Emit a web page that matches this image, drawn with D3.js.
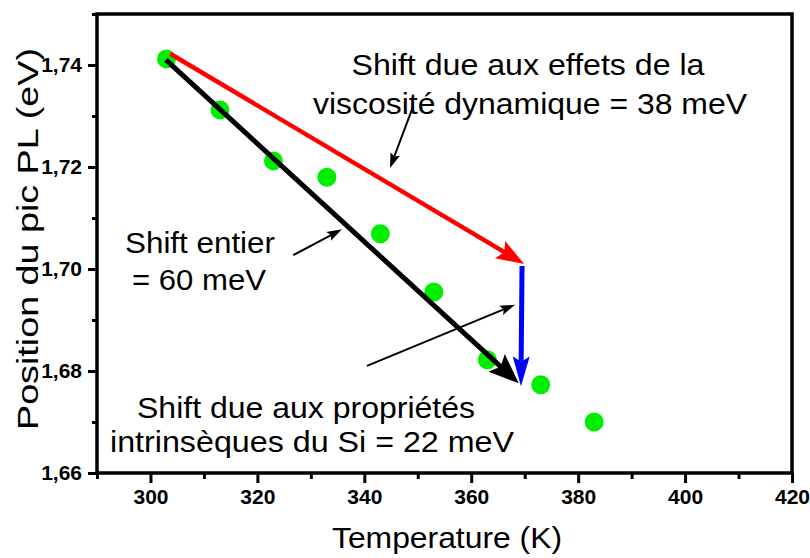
<!DOCTYPE html>
<html>
<head>
<meta charset="utf-8">
<script src="https://cdn.jsdelivr.net/npm/d3@7"></script>
<style>
  html, body { margin: 0; padding: 0; background: #fff; }
  svg { display: block; }
</style>
</head>
<body>
<svg id="chart" width="810" height="558"></svg>
<script>
// ---------- data ----------
const temperatures = [303, 313, 323, 333, 343, 353, 363, 373, 383];
const peakPositions = [1.7412, 1.7312, 1.7212, 1.718, 1.7069, 1.6955, 1.6822, 1.6773, 1.670];

const xTickValues = [300, 320, 340, 360, 380, 400, 420];
const xMinorTicks = [290, 310, 330, 350, 370, 390, 410];
const yTickValues = [1.66, 1.68, 1.70, 1.72, 1.74];
const yTickLabels = ["1,66", "1,68", "1,70", "1,72", "1,74"];
const yMinorTicks = [1.67, 1.69, 1.71, 1.73, 1.75];

// arrows in data units: [x1, y1, x2(tip), y2(tip)]
const arrowRed   = [303.7, 1.7422, 369.9, 1.7010];
const arrowBlack = [302.9, 1.7410, 368.9, 1.6776];
const arrowBlue  = [369.5, 1.7006, 369.3, 1.6770];
const pointerViscosite = [349.1, 1.7318, 344.8, 1.7198];
const pointerEntier    = [326.7, 1.7027, 335.8, 1.7078];
const pointerIntrinsic = [340.5, 1.6810, 368.2, 1.6930];

const labelViscosite = ["Shift due aux effets de la", "viscosité dynamique = 38 meV"];
const labelEntier = ["Shift entier", "= 60 meV"];
const labelIntrinsic = ["Shift due aux propriétés", "intrinsèques du Si = 22 meV"];

// ---------- layout ----------
const W = 810, H = 558;
const margin = {left: 97, right: 18, top: 14, bottom: 85};
const svg = d3.select("#chart");
const FONT = "'Liberation Sans', Arial, Helvetica, sans-serif";

const x = d3.scaleLinear().domain([290, 420]).range([margin.left, W - margin.right]);
const y = d3.scaleLinear().domain([1.66, 1.75]).range([H - margin.bottom, margin.top]);

// ---------- axes ----------
const gx = svg.append("g").attr("transform", `translate(0,${H - margin.bottom})`)
  .call(d3.axisBottom(x).tickValues(xTickValues).tickSize(10).tickPadding(6).tickSizeOuter(0));
const gxm = svg.append("g").attr("transform", `translate(0,${H - margin.bottom})`)
  .call(d3.axisBottom(x).tickValues(xMinorTicks).tickSize(6).tickFormat("").tickSizeOuter(0));
const gy = svg.append("g").attr("transform", `translate(${margin.left},0)`)
  .call(d3.axisLeft(y).tickValues(yTickValues).tickSize(9).tickPadding(6).tickSizeOuter(0)
    .tickFormat((d, i) => yTickLabels[i]));
const gym = svg.append("g").attr("transform", `translate(${margin.left},0)`)
  .call(d3.axisLeft(y).tickValues(yMinorTicks).tickSize(5).tickFormat("").tickSizeOuter(0));

[gx, gxm, gy, gym].forEach(g => {
  g.select(".domain").remove();
  g.selectAll(".tick line").attr("stroke", "#000").attr("stroke-width", 3);
  g.selectAll("text").attr("fill", "#000").style("font-family", FONT)
    .style("font-weight", "bold").style("font-size", "21px");
});

// frame
svg.append("rect")
  .attr("x", margin.left).attr("y", margin.top)
  .attr("width", W - margin.left - margin.right)
  .attr("height", H - margin.top - margin.bottom)
  .attr("fill", "none").attr("stroke", "#000").attr("stroke-width", 3.5);

// ---------- data points ----------
svg.append("g").selectAll("circle")
  .data(temperatures.map((t, i) => [t, peakPositions[i]]))
  .join("circle")
  .attr("cx", d => x(d[0])).attr("cy", d => y(d[1]))
  .attr("r", 9.5).attr("fill", "#00ee00");

// ---------- arrows ----------
function arrow(a, color, lw, headLen, headHalf) {
  const x1 = x(a[0]), y1 = y(a[1]), x2 = x(a[2]), y2 = y(a[3]);
  const dx = x2 - x1, dy = y2 - y1, len = Math.hypot(dx, dy);
  const ux = dx / len, uy = dy / len, nx = -uy, ny = ux;
  const bx = x2 - ux * headLen, by = y2 - uy * headLen;
  const notchX = x2 - ux * headLen * 0.82, notchY = y2 - uy * headLen * 0.82;
  svg.append("line")
    .attr("x1", x1).attr("y1", y1).attr("x2", notchX).attr("y2", notchY)
    .attr("stroke", color).attr("stroke-width", lw).attr("stroke-linecap", "butt");
  svg.append("path")
    .attr("d", `M${x2},${y2}L${bx + nx * headHalf},${by + ny * headHalf}L${notchX},${notchY}L${bx - nx * headHalf},${by - ny * headHalf}Z`)
    .attr("fill", color);
}
arrow(arrowRed, "#ff0000", 4.5, 28, 10);
arrow(arrowBlack, "#000000", 5, 30, 12);
arrow(arrowBlue, "#0000ff", 5, 30, 8.5);
arrow(pointerViscosite, "#000", 2, 15, 5);
arrow(pointerEntier, "#000", 2, 15, 5);
arrow(pointerIntrinsic, "#000", 2, 15, 5);

// ---------- annotation text ----------
function label(txt, cx, baseline, width, size) {
  svg.append("text")
    .attr("x", cx).attr("y", baseline)
    .attr("text-anchor", "middle")
    .attr("textLength", width).attr("lengthAdjust", "spacingAndGlyphs")
    .style("font-family", FONT).style("font-size", size + "px")
    .attr("fill", "#000").text(txt);
}
label(labelViscosite[0], 528, 75, 353, 29);
label(labelViscosite[1], 530, 114, 434, 29);
label(labelEntier[0], 200, 253, 150, 29);
label(labelEntier[1], 199, 290, 134, 29);
label(labelIntrinsic[0], 306, 418, 338, 29);
label(labelIntrinsic[1], 312, 452, 404, 29);

// axis titles
label("Temperature (K)", 447, 548, 230, 29);
svg.append("text")
  .attr("transform", `translate(38,239) rotate(-90)`)
  .attr("text-anchor", "middle")
  .attr("textLength", 382).attr("lengthAdjust", "spacingAndGlyphs")
  .style("font-family", FONT).style("font-size", "30px")
  .attr("fill", "#000").text("Position du pic PL (eV)");
</script>
</body>
</html>
